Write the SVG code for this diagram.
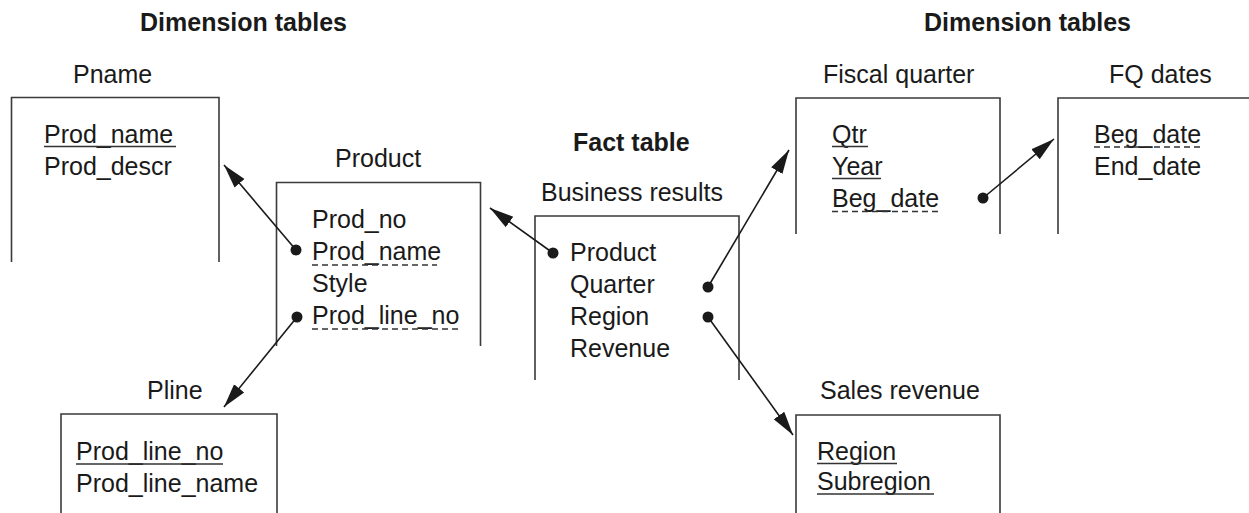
<svg xmlns="http://www.w3.org/2000/svg" width="1249" height="513" viewBox="0 0 1249 513">
<defs>
<style>
text{font-family:"Liberation Sans",Arial,sans-serif;font-size:25px;fill:#1a1a1a}
.h{font-weight:bold}
.box{fill:none;stroke:#3a3a3a;stroke-width:1.6}
.ul{stroke:#333;stroke-width:1.6}
.dl{stroke:#333;stroke-width:1.6;stroke-dasharray:6 4}
.ar{stroke:#1a1a1a;stroke-width:1.6;fill:none;marker-end:url(#ah)}
.dot{fill:#1a1a1a}
</style>
<marker id="ah" markerUnits="userSpaceOnUse" markerWidth="26" markerHeight="16" viewBox="0 0 26 16" refX="24" refY="8" orient="auto">
<path d="M0,1.5 L24,8 L0,14.5 Z" fill="#1a1a1a"/>
</marker>
</defs>
<rect width="1249" height="513" fill="#fff"/>
<text class="h" x="140" y="31">Dimension tables</text>
<text class="h" x="924" y="31">Dimension tables</text>
<text class="h" x="573" y="151">Fact table</text>

<g id="pname">
<text x="73" y="83">Pname</text>
<path class="box" d="M11.5,262 V97.5 H219 V262"/>
<text x="44" y="143">Prod_name</text>
<line class="ul" x1="44" y1="146.5" x2="176" y2="146.5"/>
<text x="44" y="175">Prod_descr</text>
</g>

<g id="product">
<text x="335" y="167">Product</text>
<path class="box" d="M276.5,346 V182.5 H480.5 V346"/>
<text x="312" y="228">Prod_no</text>
<text x="312" y="260">Prod_name</text>
<line class="dl" x1="312" y1="265" x2="437" y2="265"/>
<text x="312" y="292">Style</text>
<text x="312" y="324">Prod_line_no</text>
<line class="dl" x1="312" y1="329" x2="459" y2="329"/>
</g>

<g id="business">
<text x="541" y="201">Business results</text>
<path class="box" d="M535,380 V216 H739 V380"/>
<text x="570" y="261">Product</text>
<text x="570" y="293">Quarter</text>
<text x="570" y="325">Region</text>
<text x="570" y="357">Revenue</text>
</g>

<g id="fiscal">
<text x="823" y="83">Fiscal quarter</text>
<path class="box" d="M796,234 V98 H1000 V234"/>
<text x="832" y="143">Qtr</text>
<line class="ul" x1="832" y1="146.5" x2="868" y2="146.5"/>
<text x="832" y="175">Year</text>
<line class="ul" x1="832" y1="178.5" x2="881" y2="178.5"/>
<text x="832" y="207">Beg_date</text>
<line class="dl" x1="832" y1="211.5" x2="941" y2="211.5"/>
</g>

<g id="fqdates">
<text x="1109" y="83">FQ dates</text>
<path class="box" d="M1058,234 V98 H1250"/>
<text x="1094" y="143">Beg_date</text>
<line class="dl" x1="1094" y1="147" x2="1202" y2="147"/>
<text x="1094" y="175">End_date</text>
</g>

<g id="pline">
<text x="147" y="399">Pline</text>
<path class="box" d="M61,514 V414 H277 V514"/>
<text x="76" y="460">Prod_line_no</text>
<line class="ul" x1="76" y1="464" x2="223" y2="464"/>
<text x="76" y="492">Prod_line_name</text>
</g>

<g id="sales">
<text x="820" y="399">Sales revenue</text>
<path class="box" d="M796,514 V415 H1000 V514"/>
<text x="817" y="460">Region</text>
<line class="ul" x1="817" y1="463.5" x2="897" y2="463.5"/>
<text x="817" y="490">Subregion</text>
<line class="ul" x1="817" y1="494" x2="934" y2="494"/>
</g>

<g id="connectors">
<line class="ar" x1="296" y1="250" x2="224" y2="165"/>
<circle class="dot" cx="296" cy="250" r="5.5"/>
<line class="ar" x1="297" y1="317" x2="224" y2="407"/>
<circle class="dot" cx="297" cy="317" r="5.5"/>
<line class="ar" x1="553" y1="253" x2="490" y2="208"/>
<circle class="dot" cx="553" cy="253" r="5.5"/>
<line class="ar" x1="708" y1="287" x2="789" y2="150"/>
<circle class="dot" cx="708" cy="287" r="5.5"/>
<line class="ar" x1="708" y1="317" x2="793" y2="435"/>
<circle class="dot" cx="708" cy="317" r="5.5"/>
<line class="ar" x1="983" y1="198" x2="1054" y2="139"/>
<circle class="dot" cx="983" cy="198" r="5.5"/>
</g>
</svg>
